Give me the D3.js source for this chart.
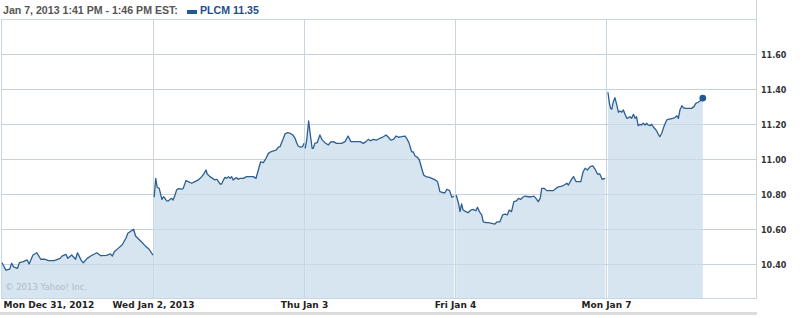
<!DOCTYPE html>
<html><head><meta charset="utf-8">
<script src="https://cdn.jsdelivr.net/npm/d3@7/dist/d3.min.js"></script>
<style>body{margin:0;background:#fff}svg{display:block}</style>
</head><body><svg id="c" width="802" height="318"></svg>
<script>
// ---- data ----
const headerText = "Jan 7, 2013 1:41 PM - 1:46 PM EST:";
const seriesLabel = "PLCM 11.35";
const dayLabels = ["Mon Dec 31, 2012", "Wed Jan 2, 2013", "Thu Jan 3", "Fri Jan 4", "Mon Jan 7"];
const yTicks = [10.4, 10.6, 10.8, 11.0, 11.2, 11.4, 11.6];
const minutesPerDay = 390;
// [minutes since open, price]
const dec31 = [[0,10.409],[10,10.367],[20,10.373],[25,10.406],[30,10.385],[40,10.377],[45,10.409],[55,10.415],[65,10.425],[70,10.402],[80,10.453],[90,10.466],[100,10.429],[110,10.429],[120,10.421],[135,10.421],[150,10.434],[155,10.447],[165,10.457],[170,10.434],[180,10.453],[190,10.429],[195,10.466],[205,10.421],[210,10.409],[220,10.434],[230,10.449],[245,10.466],[255,10.449],[270,10.451],[280,10.459],[285,10.447],[290,10.472],[300,10.491],[310,10.510],[320,10.549],[325,10.577],[340,10.600],[345,10.562],[360,10.529],[370,10.505],[380,10.486],[390,10.453]];
const jan2 = [[3,10.783],[7,10.891],[11,10.840],[16,10.834],[23,10.771],[27,10.786],[31,10.777],[35,10.763],[40,10.763],[44,10.771],[48,10.777],[52,10.767],[57,10.796],[61,10.825],[65,10.832],[74,10.829],[78,10.834],[85,10.878],[91,10.872],[100,10.863],[108,10.872],[117,10.882],[126,10.901],[132,10.920],[137,10.939],[140,10.916],[147,10.901],[154,10.891],[160,10.882],[165,10.886],[169,10.872],[173,10.859],[177,10.859],[182,10.882],[186,10.897],[190,10.891],[195,10.901],[199,10.891],[203,10.901],[207,10.882],[212,10.891],[216,10.895],[220,10.886],[225,10.891],[233,10.891],[242,10.901],[251,10.901],[259,10.901],[266,10.891],[272,10.939],[278,10.986],[285,10.981],[292,11.006],[298,11.034],[304,11.043],[313,11.049],[318,11.053],[324,11.069],[328,11.072],[335,11.110],[341,11.145],[347,11.152],[354,11.149],[361,11.139],[367,11.120],[371,11.095],[375,11.076],[381,11.069],[386,11.072],[390,11.091]];
const jan3 = [[3,11.063],[7,11.110],[12,11.219],[17,11.129],[21,11.063],[24,11.063],[28,11.091],[34,11.095],[41,11.139],[46,11.114],[54,11.095],[63,11.082],[69,11.099],[76,11.101],[84,11.091],[97,11.091],[106,11.101],[114,11.133],[121,11.101],[132,11.101],[145,11.101],[153,11.091],[160,11.101],[166,11.114],[172,11.106],[179,11.114],[188,11.110],[196,11.120],[205,11.129],[212,11.139],[218,11.126],[224,11.110],[231,11.114],[238,11.133],[244,11.126],[252,11.129],[261,11.133],[265,11.120],[271,11.095],[278,11.043],[282,11.043],[287,11.019],[293,11.011],[298,10.996],[304,10.949],[309,10.910],[315,10.901],[324,10.897],[330,10.891],[339,10.882],[345,10.872],[351,10.815],[359,10.809],[364,10.809],[369,10.829],[376,10.821],[382,10.783],[388,10.790]];
const jan4 = [[3,10.796],[9,10.749],[13,10.701],[17,10.745],[21,10.710],[28,10.701],[34,10.695],[41,10.710],[47,10.714],[54,10.706],[58,10.726],[63,10.701],[69,10.682],[73,10.643],[80,10.638],[86,10.638],[95,10.634],[103,10.630],[109,10.643],[116,10.643],[123,10.682],[129,10.687],[135,10.682],[140,10.710],[146,10.701],[152,10.758],[159,10.763],[164,10.777],[170,10.771],[175,10.783],[181,10.790],[189,10.786],[198,10.786],[204,10.790],[209,10.777],[215,10.758],[220,10.777],[224,10.834],[230,10.834],[237,10.821],[245,10.821],[254,10.821],[261,10.834],[267,10.843],[276,10.847],[282,10.853],[289,10.863],[293,10.853],[300,10.882],[306,10.901],[313,10.872],[325,10.872],[331,10.929],[336,10.949],[342,10.939],[349,10.958],[356,10.962],[362,10.943],[368,10.916],[374,10.916],[380,10.886],[388,10.891]];
const jan7 = [[5,11.383],[9,11.320],[12,11.291],[15,11.287],[19,11.329],[23,11.352],[28,11.310],[32,11.269],[36,11.276],[41,11.269],[45,11.282],[49,11.257],[54,11.234],[58,11.238],[62,11.243],[66,11.234],[71,11.257],[75,11.234],[79,11.243],[83,11.192],[88,11.200],[92,11.196],[96,11.206],[101,11.196],[105,11.206],[109,11.196],[114,11.192],[118,11.200],[122,11.186],[127,11.173],[131,11.162],[135,11.143],[139,11.129],[144,11.149],[148,11.177],[152,11.200],[157,11.225],[161,11.229],[165,11.230],[172,11.234],[178,11.238],[183,11.249],[187,11.234],[191,11.282],[196,11.306],[200,11.295],[204,11.291],[213,11.291],[221,11.291],[227,11.301],[232,11.320],[238,11.326],[243,11.333],[247,11.349],[250,11.350]];
const days = [dec31, jan2, jan3, jan4, jan7];

// ---- drawing ----
const svg = d3.select("#c");
const x = d3.scaleLinear().domain([0, 5 * minutesPerDay]).range([2, 757]);
const y = d3.scaleLinear().domain([10.2, 11.8]).range([299.3, 19.3]);
const grid = "#c8d6e1";
const px = v => Math.floor(v) + 0.5;

// horizontal gridlines
svg.append("g").selectAll("line").data(yTicks).join("line")
  .attr("x1", 2).attr("x2", 756)
  .attr("y1", d => px(y(d))).attr("y2", d => px(y(d)))
  .attr("stroke", grid).attr("stroke-width", 1);

// fills
const area = d3.area().x(d => x(d[0])).y0(298.5).y1(d => y(d[1]));
const line = d3.line().x(d => x(d[0])).y(d => y(d[1]));
const series = days.map((pts, i) => pts.map(p => [i * minutesPerDay + p[0], p[1]]));
svg.append("g").selectAll("path").data(series).join("path")
  .attr("d", area).attr("fill", "#d6e5f0");

// horizontal gridlines over fill (lighter show-through)
svg.append("g").selectAll("line").data(yTicks).join("line")
  .attr("x1", 2).attr("x2", 756)
  .attr("y1", d => px(y(d))).attr("y2", d => px(y(d)))
  .attr("stroke", "#bfcfdc").attr("stroke-opacity", 0.6).attr("stroke-width", 1);

// vertical day separators
const dayStarts = d3.range(1, 5).map(i => i * minutesPerDay);
svg.append("g").selectAll("line").data(dayStarts).join("line")
  .attr("x1", d => px(x(d))).attr("x2", d => px(x(d)))
  .attr("y1", 19).attr("y2", 299)
  .attr("stroke", grid).attr("stroke-width", 1);

// borders
svg.append("line").attr("x1", 1.5).attr("x2", 1.5).attr("y1", 19).attr("y2", 299).attr("stroke", grid);
svg.append("line").attr("x1", 756.5).attr("x2", 756.5).attr("y1", 0).attr("y2", 299).attr("stroke", grid);
svg.append("line").attr("x1", 1).attr("x2", 757).attr("y1", 19.5).attr("y2", 19.5).attr("stroke", grid);
svg.append("line").attr("x1", 1).attr("x2", 757).attr("y1", 298.5).attr("y2", 298.5).attr("stroke", grid);

// lines
svg.append("g").selectAll("path").data(series).join("path")
  .attr("d", line).attr("fill", "none").attr("stroke", "#2d5f90")
  .attr("stroke-width", 1.3).attr("stroke-linejoin", "round");

// end dot
const last = series[4][series[4].length - 1];
svg.append("circle").attr("cx", x(last[0])).attr("cy", y(last[1])).attr("r", 3.4).attr("fill", "#1f5a94");

// copyright
svg.append("text").attr("x", 5).attr("y", 290).text("\u00a9 2013 Yahoo! Inc.")
  .attr("font-family", "DejaVu Sans, Verdana, sans-serif").attr("font-size", 8.5).attr("fill", "#aebccb");

// y axis labels
const yAxis = d3.axisRight(y).tickValues(yTicks).tickFormat(d3.format(".2f")).tickSize(0).tickPadding(5);
const ga = svg.append("g").attr("transform", "translate(756,0)").call(yAxis);
ga.select(".domain").remove();
ga.selectAll("text").attr("font-family", "DejaVu Sans, Verdana, sans-serif").attr("font-weight", "bold")
  .attr("font-size", 8).attr("fill", "#333").attr("dy", "0.35em");

// x axis labels
const xAxis = d3.axisBottom(x).tickValues(d3.range(0, 5).map(i => i * minutesPerDay))
  .tickFormat((d, i) => dayLabels[i]).tickSize(0).tickPadding(0);
const gx = svg.append("g").attr("transform", "translate(0,300)").call(xAxis);
gx.select(".domain").remove();
gx.selectAll("text").attr("font-family", "DejaVu Sans, Verdana, sans-serif").attr("font-weight", "bold")
  .attr("font-size", 9).attr("fill", "#222").attr("y", 8).attr("dy", 0)
  .attr("text-anchor", (d, i) => i === 0 ? "start" : "middle")
  .attr("dx", (d, i) => i === 0 ? 1 : 0);

// bottom bar
svg.append("rect").attr("x", 0).attr("y", 312).attr("width", 757).attr("height", 3).attr("fill", "#dcdcdc");

// header
svg.append("text").attr("x", 3).attr("y", 14).text(headerText)
  .attr("font-family", "Liberation Sans, Arial, sans-serif").attr("font-weight", "bold")
  .attr("font-size", 10.6).attr("fill", "#555");
svg.append("rect").attr("x", 187).attr("y", 10).attr("width", 10).attr("height", 4).attr("fill", "#1f5a94");
svg.append("text").attr("x", 200).attr("y", 14).text(seriesLabel)
  .attr("font-family", "Liberation Sans, Arial, sans-serif").attr("font-weight", "bold")
  .attr("font-size", 10.6).attr("fill", "#1c4f88");
</script></body></html>
